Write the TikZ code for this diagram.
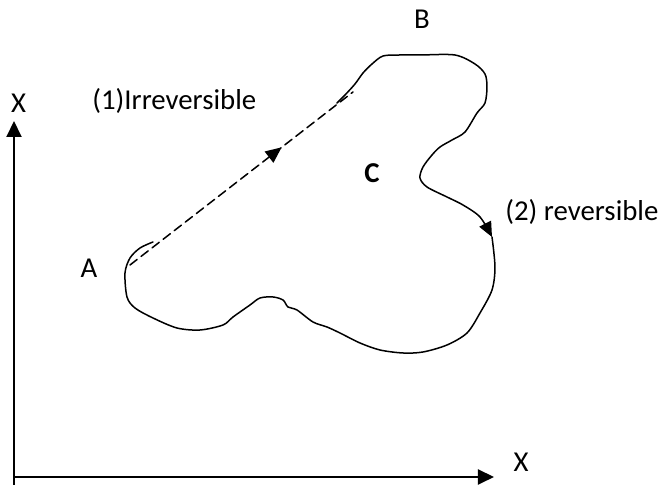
\documentclass[tikz,border=0pt]{standalone}
\usepackage{fontspec}
\setmainfont{Carlito}
\usepackage{tikz}
\usetikzlibrary{arrows.meta,decorations.markings}

\begin{document}
\begin{tikzpicture}[x=0.5pt, y=-0.5pt, >={Triangle[length=8pt, width=7.5pt]},
  axis/.style={line width=1pt, ->},
  cycle/.style={line width=0.75pt, line join=round, line cap=round},
  lbl/.style={font=\fontsize{14.4}{17}\selectfont, inner sep=0pt},
  tip/.style={-{Triangle[length=7.5pt, width=6.5pt]}}]
\useasboundingbox (0,0) rectangle (661,485);
% axes
\coordinate (o) at (14,477);
\coordinate (ybot) at (14,485);
\coordinate (ytop) at (14,121);
\coordinate (xend) at (494,477);
\draw[axis] (ybot) -- (ytop);
\draw[axis] (o) -- (xend);
\node[lbl] (xlab) at (18.5,103.5) {X};
\node[lbl] (xlab2) at (521,462) {X};
% states
\coordinate (a) at (130,265);
\coordinate (b) at (353,92);
\node[lbl, anchor=base] (alab) at (89,278) {A};
\node[lbl] (blab) at (422,19) {B};
\node[lbl, anchor=base] (clab) at (372,183) {\bfseries C};
% (1) irreversible path
\draw[cycle, dash pattern=on 4.5pt off 2.5pt,
  postaction={decorate, decoration={markings,
    mark=at position 0.68 with {\arrow{Triangle[length=8pt, width=7pt]}}}}] (a) -- (b);
\node[lbl, anchor=base west] (irr) at (92,110) {(1)Irreversible};
% (2) reversible path
\draw[cycle, tip] plot[smooth, tension=0.5] coordinates {
  (337,103) (345,95) (355,84) (363,73) (372,64) (383,56) (400,55) (420,55)
  (455,55) (475,64) (485,74) (487,87) (485,103) (477,113) (465,132)
  (452,140) (440,147) (432,155) (423,167) (420,178) (427,187) (447,197)
  (463,205) (480,217) (492,237)};
\draw[cycle] plot[smooth, tension=0.5] coordinates {
  (492,237) (495,267) (492,290) (480,313) (467,333) (447,345) (423,352)
  (403,353) (380,350) (360,343) (340,333) (327,327) (313,322) (297,310)
  (288,307) (283,300) (273,297) (260,298) (250,305) (233,317) (223,325)
  (200,330) (177,328) (153,318) (135,308) (127,297) (125,273) (130,258)
  (140,248) (153,242)};
\node[lbl, anchor=base west] (rev) at (505,221) {(2) reversible};
\end{tikzpicture}
\end{document}
